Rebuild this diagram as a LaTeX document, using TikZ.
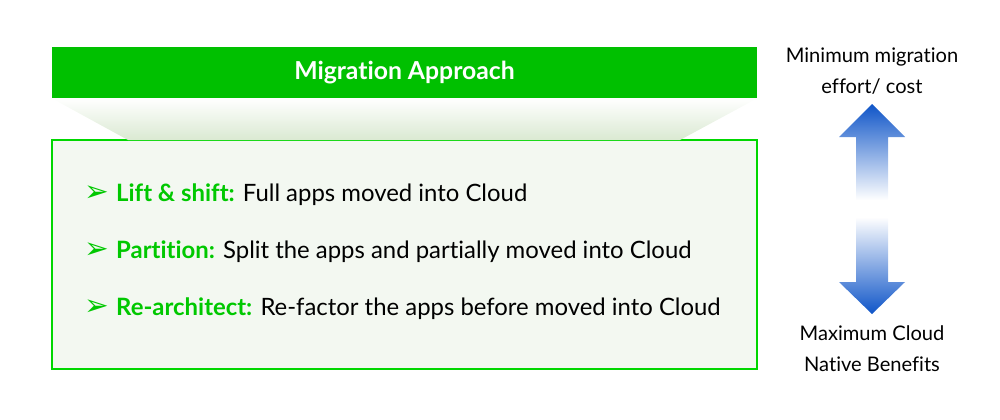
\documentclass[tikz,border=0pt]{standalone}
\usepackage{fontspec}
\setmainfont{Lato}[RawFeature=-liga]
\newfontfamily\symfont{DejaVu Sans}
\usepackage{tikz}
\usetikzlibrary{positioning,calc}

\definecolor{headgreen}{RGB}{0,192,0}
\definecolor{boxgreen}{RGB}{0,215,0}
\definecolor{boxfill}{RGB}{243,248,241}
\definecolor{funnelgreen}{RGB}{218,233,210}
\definecolor{arrowblue}{RGB}{15,85,200}
\definecolor{labelgreen}{RGB}{0,200,0}

\newcommand{\bulletmark}{{\symfont\fontsize{21}{21}\selectfont\color{labelgreen}\char"27A2}}

\begin{document}
\begin{tikzpicture}[
  font=\fontsize{14}{17}\selectfont,
  header/.style={fill=headgreen, text=white, font=\fontsize{17.6}{20}\selectfont\bfseries,
                 minimum width=17.625cm, minimum height=1.275cm, inner sep=0pt},
  content/.style={draw=boxgreen, line width=1.5pt, fill=boxfill,
                  minimum width=17.625cm, minimum height=5.725cm, inner sep=0pt},
  item/.style={anchor=west, inner sep=0pt, font=\fontsize{17}{20}\selectfont},
  side/.style={align=center, font=\fontsize{14.3}{22}\selectfont},
]
\useasboundingbox (0,0) rectangle (25,-10.475);

% header and funnel
\node[header] (head) at (10.1125,-1.8125) {Migration Approach};
\node[content] (body) at (10.1125,-6.3625) {};
\shade[top color=white, bottom color=funnelgreen]
  (head.south west) -- (head.south east) -- (17,-3.5) -- (3.2,-3.5) -- cycle;

% bullet points
\node[item] (lift) at (2.1,-4.875)
  {\bulletmark\hspace{0.18cm}{\bfseries\color{labelgreen}Lift \& shift:} Full apps moved into Cloud};
\node[item] (part) at (2.1,-6.3)
  {\bulletmark\hspace{0.18cm}{\bfseries\color{labelgreen}Partition:} Split the apps and partially moved into Cloud};
\node[item] (rearch) at (2.1,-7.725)
  {\bulletmark\hspace{0.18cm}{\bfseries\color{labelgreen}Re-architect:} Re-factor the apps before moved into Cloud};

% right scale
\node[side] (minlbl) at (21.8,-1.78) {Minimum migration\\effort/ cost};
\node[side] (maxlbl) at (21.8,-8.725) {Maximum Cloud\\Native Benefits};

\shade[top color=arrowblue, bottom color=white]
  (21.8,-2.6) -- (22.625,-3.425) -- (22.2,-3.425) -- (22.2,-5.0)
  -- (21.4,-5.0) -- (21.4,-3.425) -- (20.975,-3.425) -- cycle;
\shade[top color=white, bottom color=arrowblue]
  (21.4,-5.425) -- (22.2,-5.425) -- (22.2,-7.05) -- (22.625,-7.05)
  -- (21.8,-7.85) -- (20.975,-7.05) -- (21.4,-7.05) -- cycle;
\end{tikzpicture}
\end{document}
